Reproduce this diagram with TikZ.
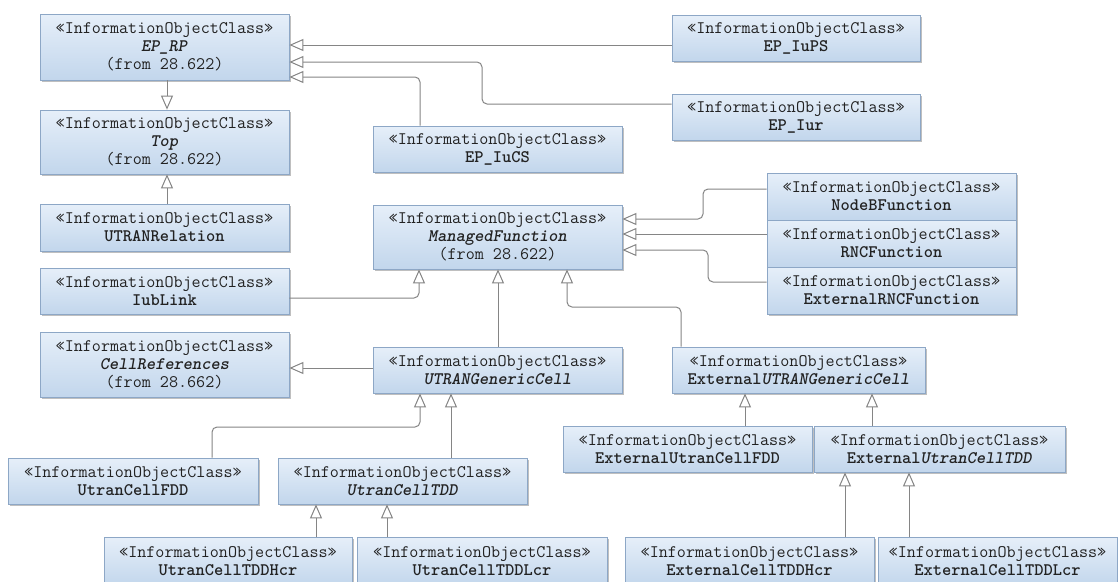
\documentclass[tikz,border=0pt]{standalone}
\usepackage{fontspec}
\usetikzlibrary{arrows.meta,shadows}
\definecolor{boxtop}{HTML}{E6EFF9}
\definecolor{boxbot}{HTML}{C2D6EC}
\definecolor{boxline}{HTML}{8DA7C6}
\definecolor{conn}{HTML}{858585}
\definecolor{txt}{HTML}{222222}
\newcommand\umlbox[6]{\node[cls, minimum width={(#3-#2)*1pt}, minimum height={(#5-#4)*1pt}] (#1) at ({(#2+#3)/2},{(#4+#5)/2}) {#6};}
\newcommand\stereo{«InformationObjectClass»}
\begin{document}
\begin{tikzpicture}[x=1pt,y=-1pt,
 cls/.style={draw=boxline, line width=0.8pt, top color=boxtop, bottom color=boxbot,
   inner sep=0pt, align=center, text=txt, font=\ttfamily\fontsize{17.6}{18}\selectfont,
   drop shadow={shadow xshift=2pt, shadow yshift=-2pt, fill=black, opacity=0.25}},
 gen/.style={draw=conn, line width=1pt, rounded corners=5pt,
   -{Triangle[open, length=14pt, width=12pt]}}]
\useasboundingbox[fill=white] (0,0) rectangle (1118,581);
% boxes: name, x1, x2, y1, y2, text
\umlbox{EPRP}{40}{289}{14}{80}{\stereo\\\textbf{\textit{EP\_RP}}\\(from 28.622)}
\umlbox{IuPS}{672}{920}{15}{61}{\stereo\\\textbf{EP\_IuPS}}
\umlbox{Iur}{672}{920}{94}{140}{\stereo\\\textbf{EP\_Iur}}
\umlbox{Top}{40}{289}{110}{174}{\stereo\\\textbf{\textit{Top}}\\(from 28.622)}
\umlbox{IuCS}{373}{622}{126}{172}{\stereo\\\textbf{EP\_IuCS}}
\umlbox{UR}{40}{289}{204}{251}{\stereo\\\textbf{UTRANRelation}}
\umlbox{NodeB}{767}{1016}{173}{220}{\stereo\\\textbf{NodeBFunction}}
\umlbox{RNC}{767}{1016}{220}{267}{\stereo\\\textbf{RNCFunction}}
\umlbox{ExtRNC}{767}{1016}{267}{314}{\stereo\\\textbf{ExternalRNCFunction}}
\umlbox{MF}{373}{622}{205}{269}{\stereo\\\textbf{\textit{ManagedFunction}}\\(from 28.622)}
\umlbox{Iub}{40}{289}{268}{314}{\stereo\\\textbf{IubLink}}
\umlbox{CR}{40}{289}{332}{397}{\stereo\\\textbf{\textit{CellReferences}}\\(from 28.662)}
\umlbox{UGC}{373}{622}{347}{393}{\stereo\\\textbf{\textit{UTRANGenericCell}}}
\umlbox{EUGC}{672}{925}{347}{393}{\stereo\\\textbf{External\textit{UTRANGenericCell}}}
\umlbox{EUCFDD}{563}{812}{426}{472}{\stereo\\\textbf{ExternalUtranCellFDD}}
\umlbox{EUCTDD}{814}{1065}{426}{472}{\stereo\\\textbf{External\textit{UtranCellTDD}}}
\umlbox{UCFDD}{8}{258}{458}{504}{\stereo\\\textbf{UtranCellFDD}}
\umlbox{UCTDD}{278}{527}{458}{504}{\stereo\\\textbf{\textit{UtranCellTDD}}}
\umlbox{Hcr}{104}{352}{537}{586}{\stereo\\\textbf{UtranCellTDDHcr}}
\umlbox{Lcr}{357}{607}{537}{586}{\stereo\\\textbf{UtranCellTDDLcr}}
\umlbox{ECHcr}{625}{874}{537}{586}{\stereo\\\textbf{ExternalCellTDDHcr}}
\umlbox{ECLcr}{878}{1117}{537}{586}{\stereo\\\textbf{ExternalCellTDDLcr}}
% generalizations
\draw[gen] (IuPS.west |- 0,45) -- (EPRP.east |- 0,45);
\draw[gen] (Iur.west |- 0,104) -- (482,104) -- (482,62) -- (EPRP.east |- 0,62);
\draw[gen] (IuCS.north -| 420,0) -- (420,77) -- (EPRP.east |- 0,77);
\draw[gen] (EPRP.south -| 167,0) -- (Top.north -| 167,0);
\draw[gen] (UR.north -| 167,0) -- (Top.south -| 167,0);
\draw[gen] (NodeB.west |- 0,189) -- (703,189) -- (703,219) -- (MF.east |- 0,219);
\draw[gen] (RNC.west |- 0,234) -- (MF.east |- 0,234);
\draw[gen] (ExtRNC.west |- 0,282) -- (708,282) -- (708,250) -- (MF.east |- 0,250);
\draw[gen] (Iub.east |- 0,298) -- (419,298) -- (MF.south -| 419,0);
\draw[gen] (UGC.north -| 498,0) -- (MF.south -| 498,0);
\draw[gen] (EUGC.north -| 681,0) -- (681,307) -- (567,307) -- (MF.south -| 567,0);
\draw[gen] (UGC.west |- 0,368) -- (CR.east |- 0,368);
\draw[gen] (UCFDD.north -| 212,0) -- (212,427) -- (420,427) -- (UGC.south -| 420,0);
\draw[gen] (UCTDD.north -| 451,0) -- (UGC.south -| 451,0);
\draw[gen] (Hcr.north -| 316,0) -- (UCTDD.south -| 316,0);
\draw[gen] (Lcr.north -| 387,0) -- (UCTDD.south -| 387,0);
\draw[gen] (EUCFDD.north -| 745,0) -- (EUGC.south -| 745,0);
\draw[gen] (EUCTDD.north -| 872,0) -- (EUGC.south -| 872,0);
\draw[gen] (ECHcr.north -| 845,0) -- (EUCTDD.south -| 845,0);
\draw[gen] (ECLcr.north -| 909,0) -- (EUCTDD.south -| 909,0);
\end{tikzpicture}
\end{document}
